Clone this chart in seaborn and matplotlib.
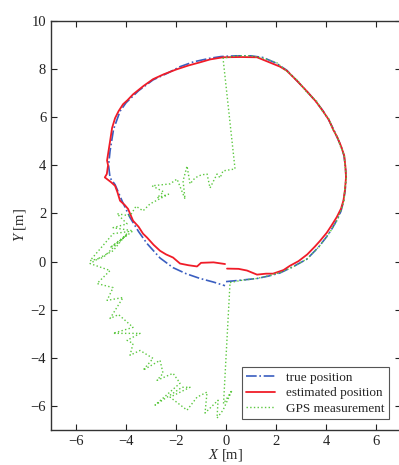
import matplotlib
matplotlib.use('Agg')
import matplotlib.pyplot as plt
import seaborn as sns
import pandas as pd

# true trajectory, counter-clockwise from the bottom
true_x = [0.0, 0.6, 1.24, 1.7, 2.16, 2.7, 3.23, 3.7, 4.0, 4.2, 4.45, 4.6, 4.7, 4.77, 4.8,
          4.78, 4.72, 4.6, 4.45, 4.3, 4.1, 3.89, 3.6, 3.23, 2.85, 2.43, 2.0, 1.48, 1.0, 0.4,
          -0.2, -0.64, -1.3, -1.84, -2.36, -2.92, -3.5, -4.0, -4.24, -4.5, -4.64, -4.7,
          -4.64, -4.44, -4.15, -3.84, -3.5, -3.16, -2.64, -2.12, -1.6, -1.04, -0.5, -0.04]
true_y = [-0.83, -0.77, -0.7, -0.6, -0.47, -0.2, 0.1, 0.6, 1.0, 1.3, 1.75, 2.1, 2.5, 3.0, 3.5,
          3.9, 4.4, 4.8, 5.15, 5.5, 5.9, 6.25, 6.65, 7.08, 7.5, 7.95, 8.25, 8.48, 8.55, 8.55,
          8.52, 8.45, 8.3, 8.1, 7.82, 7.55, 7.1, 6.6, 6.25, 5.5, 4.6, 4.0,
          3.48, 3.2, 2.5, 1.83, 1.25, 0.75, 0.15, -0.25, -0.5, -0.7, -0.85, -1.0]

# estimated trajectory
est_x = [0.04, 0.5, 0.84, 1.24, 1.6, 1.88, 2.3, 2.56,
         2.9, 3.25, 3.55, 3.75, 4.03, 4.22, 4.43, 4.6, 4.7, 4.76, 4.8, 4.78, 4.73, 4.6,
         4.46, 4.28, 4.12, 3.88, 3.6, 3.23, 2.85, 2.43, 2.16, 1.64, 1.24, 0.6,
         -0.12, -0.64, -1.04, -1.5, -2.0, -2.5, -2.92, -3.3, -3.72, -3.95, -4.12,
         -4.3, -4.44, -4.56, -4.64, -4.72, -4.76, -4.72, -4.77, -4.85, -4.6, -4.44, -4.35,
         -4.24, -4.05, -3.92, -3.72, -3.5, -3.32, -3.16, -2.9, -2.64, -2.4, -2.12, -1.84,
         -1.5, -1.16, -1.0, -0.5, -0.04]
est_y = [-0.29, -0.3, -0.37, -0.54, -0.5, -0.5, -0.35, -0.17,
         0.02, 0.3, 0.62, 0.85, 1.2, 1.5, 1.85, 2.2, 2.55, 3.0, 3.5, 3.9, 4.4, 4.8,
         5.15, 5.5, 5.88, 6.25, 6.65, 7.08, 7.5, 7.93, 8.1, 8.32, 8.49, 8.5,
         8.49, 8.4, 8.28, 8.15, 7.98, 7.78, 7.58, 7.3, 6.95, 6.7, 6.54,
         6.25, 5.96, 5.55, 5.0, 4.47, 4.2, 4.0, 3.64, 3.5, 3.3, 3.15, 2.9,
         2.53, 2.35, 2.19, 1.7, 1.45, 1.16, 1.0, 0.7, 0.45, 0.3, 0.17, -0.08,
         -0.15, -0.2, -0.05, -0.03, -0.1]

# GPS measurements
gps_x = [0.16, 0.6, 1.24, 1.72, 2.18, 2.68, 3.25, 3.68, 4.02, 4.19, 4.47, 4.58, 4.72, 4.75,
         4.82, 4.77, 4.73, 4.58, 4.46, 4.28, 4.12, 3.87, 3.62, 3.21, 2.87, 2.41, 2.02, 1.46,
         1.0, 0.4, -0.12,
         0.36, -0.12, -0.24, -0.36, -0.64, -0.76, -1.0, -1.24, -1.44, -1.56, -1.72, -1.64,
         -1.96, -2.24, -2.96, -2.5, -2.76, -2.3, -3.04, -3.32, -3.6, -3.84, -4.36, -3.96,
         -4.52, -3.72, -4.24, -4.64, -4.0, -4.92, -5.44, -4.52, -3.9, -4.52, -5.04, -5.44,
         -4.64, -5.16, -4.52, -4.76, -4.12, -4.64, -4.3, -3.72, -4.52, -3.44, -3.96, -3.72,
         -3.84, -3.44, -2.92, -3.32, -2.64, -2.52, -2.76, -2.12, -1.84, -2.84, -1.76, -1.44,
         -2.24, -1.56, -1.16, -0.76, -0.84, -0.32, -0.36, -0.12, 0.24, -0.1, 0.16]
gps_y = [-0.87, -0.78, -0.7, -0.58, -0.45, -0.22, 0.12, 0.58, 1.02, 1.28, 1.77, 2.08, 2.52,
         2.98, 3.52, 3.88, 4.42, 4.78, 5.17, 5.48, 5.92, 6.23, 6.67, 7.06, 7.52, 7.93, 8.27,
         8.46, 8.55, 8.55, 8.45,
         3.85, 3.77, 3.48, 3.64, 3.06, 3.64, 3.6, 3.48, 3.23, 3.97, 3.35, 2.6,
         3.43, 3.23, 3.15, 2.9, 2.65, 2.8, 2.4, 2.11, 2.3, 1.9, 1.99, 1.57,
         1.41, 1.28, 0.87, 0.58, 1.1, 0.17, 0.04, 1.16, 1.25, 0.45, 0.17, -0.08,
         -0.37, -0.91, -1.08, -1.61, -1.49, -2.36, -2.2, -2.73, -2.98, -2.98, -3.27, -3.4,
         -3.89, -3.69, -4.02, -4.51, -4.1, -4.64, -4.93, -4.64, -5.05, -5.96, -5.22, -5.22,
         -5.63, -6.17, -5.63, -5.42, -6.29, -5.76, -6.5, -6.17, -5.34, -5.9, -0.87]

plt.figure(figsize=(3.99, 4.65), dpi=100)
sns.set_style('ticks')
plt.rcParams['font.family'] = ['Liberation Serif', 'DejaVu Serif']
plt.rcParams['mathtext.fontset'] = 'custom'
plt.rcParams['mathtext.it'] = 'Liberation Serif:italic'
plt.rcParams['mathtext.rm'] = 'Liberation Serif'

ax = plt.gca()
ax.set_position([0.128, 0.075, 0.877, 0.88])

true_df = pd.DataFrame({'x': true_x, 'y': true_y})
est_df = pd.DataFrame({'x': est_x, 'y': est_y})
gps_df = pd.DataFrame({'x': gps_x, 'y': gps_y})

sns.lineplot(data=true_df, x='x', y='y', sort=False, estimator=None, ax=ax,
             color='#3a5ec0', linestyle='-.', linewidth=1.2, label='true position')
sns.lineplot(data=est_df, x='x', y='y', sort=False, estimator=None, ax=ax,
             color='#f01c28', linewidth=1.3, label='estimated position')
sns.lineplot(data=gps_df, x='x', y='y', sort=False, estimator=None, ax=ax,
             color='#5cc840', linestyle=':', linewidth=1.0, label='GPS measurement')

ax.set_xlim(-7, 7)
ax.set_ylim(-7, 10)
ax.set_xticks([-6, -4, -2, 0, 2, 4, 6])
ax.set_yticks([-6, -4, -2, 0, 2, 4, 6, 8, 10])
ax.tick_params(direction='in', top=True, right=True, length=4, labelsize=10.5, colors='#222222')
for s in ax.spines.values():
    s.set_visible(True)
    s.set_color('#333333')
    s.set_linewidth(1.0)
ax.set_xlabel('$X$ [m]', fontsize=10.5, labelpad=-1)
ax.set_ylabel('$Y$ [m]', fontsize=10.5, labelpad=2)

leg = ax.legend(loc='lower right', bbox_to_anchor=(0.985, 0.01), fontsize=9.5,
                fancybox=False, edgecolor='#555555', framealpha=1,
                handlelength=2.2, borderpad=0.35, labelspacing=0.25, handletextpad=0.8)
leg.get_frame().set_linewidth(0.8)

plt.savefig('out.png', dpi=100)
